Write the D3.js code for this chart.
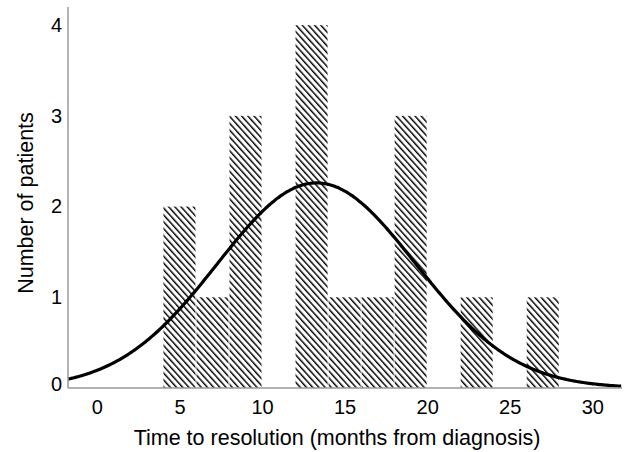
<!DOCTYPE html>
<html>
<head>
	<title>histogram</title>
	<style>
	body { margin: 0; background: #fff; }
	.tick text { font-family: "Liberation Sans", Arial, sans-serif; font-size: 20px; fill: #000; }
	.axtitle { font-family: "Liberation Sans", Arial, sans-serif; font-size: 21.5px; fill: #000; text-anchor: middle; }
	</style>
	<script src="https://d3js.org/d3.v7.min.js"></script>
</head>
<body>
	<script type="text/javascript">
		// histogram bins (months) and counts
		var binStart = [4, 6, 8, 12, 14, 16, 18, 22, 26];
		var binEnd   = [6, 8, 10, 14, 16, 18, 20, 24, 28];
		var counts   = [2, 1, 3, 4, 1, 1, 3, 1, 1];
		var xTicks = [0, 5, 10, 15, 20, 25, 30];
		var yTicks = [0, 1, 2, 3, 4];
		// fitted normal curve
		var fitMean = 13.3;
		var fitSd = 6.0;

		var svgWidth = 624, svgHeight = 452;
		var margin = { left: 68, top: 7, right: 2, bottom: 64 };

		var svg = d3.select('body').append('svg')
			.attr('width', svgWidth)
			.attr('height', svgHeight);

		var x = d3.scaleLinear().domain([-1.75, 31.8]).range([margin.left, svgWidth - margin.right]);
		var y = d3.scaleLinear().domain([0, 4.2]).range([svgHeight - margin.bottom, margin.top]);

		// 斜线填充
		var hs = 4.6;
		var defs = svg.append('defs');
		var pat = defs.append('pattern')
			.attr('id', 'hatch')
			.attr('patternUnits', 'userSpaceOnUse')
			.attr('width', hs)
			.attr('height', hs)
			.attr('patternTransform', 'rotate(-42)');
		pat.append('rect').attr('width', hs).attr('height', hs).attr('fill', '#fff');
		pat.append('line')
			.attr('x1', 0).attr('y1', 0).attr('x2', 0).attr('y2', hs)
			.attr('stroke', '#000')
			.attr('stroke-width', 2.9);

		var bars = binStart.map(function (s, i) {
			return { x0: s, x1: binEnd[i], n: counts[i] };
		});

		svg.selectAll('rect.bar')
			.data(bars)
			.enter()
			.append('rect')
			.attr('class', 'bar')
			.attr('x', function (d) { return x(d.x0) + 0.5; })
			.attr('width', function (d) { return x(d.x1) - x(d.x0) - 1; })
			.attr('y', function (d) { return y(d.n); })
			.attr('height', function (d) { return y(0) - y(d.n); })
			.attr('fill', 'url(#hatch)');

		// 正态曲线
		var total = d3.sum(counts);
		var binW = 2;
		var curvePts = d3.range(-1.75, 31.81, 0.1).map(function (t) {
			var z = (t - fitMean) / fitSd;
			return [t, total * binW * Math.exp(-0.5 * z * z) / (fitSd * Math.sqrt(2 * Math.PI))];
		});
		svg.append('path')
			.datum(curvePts)
			.attr('fill', 'none')
			.attr('stroke', '#000')
			.attr('stroke-width', 3.2)
			.attr('d', d3.line().curve(d3.curveBasis)
				.x(function (d) { return x(d[0]); })
				.y(function (d) { return y(d[1]); }));

		// axes
		var xAxis = svg.append('g')
			.attr('transform', 'translate(0,' + y(0) + ')')
			.call(d3.axisBottom(x).tickValues(xTicks).tickFormat(d3.format('d')).tickSize(0).tickPadding(12));
		xAxis.select('.domain').attr('stroke', '#999').attr('stroke-width', 1.5).attr('d', 'M' + margin.left + ',0H' + (svgWidth - margin.right));

		var yAxis = svg.append('g')
			.attr('transform', 'translate(' + margin.left + ',0)')
			.call(d3.axisLeft(y).tickValues(yTicks).tickFormat(d3.format('d')).tickSize(0).tickPadding(6));
		yAxis.select('.domain').attr('stroke', '#999').attr('stroke-width', 1.5).attr('d', 'M0,' + margin.top + 'V' + y(0));
		yAxis.selectAll('.tick').filter(function (d) { return d === 0; }).select('text').attr('dy', '0.1em');

		svg.append('text')
			.attr('class', 'axtitle')
			.attr('x', 337)
			.attr('y', 445)
			.text('Time to resolution (months from diagnosis)');

		svg.append('text')
			.attr('class', 'axtitle')
			.attr('transform', 'translate(33,' + 203 + ') rotate(-90)')
			.text('Number of patients');
	</script>
</body>
</html>
